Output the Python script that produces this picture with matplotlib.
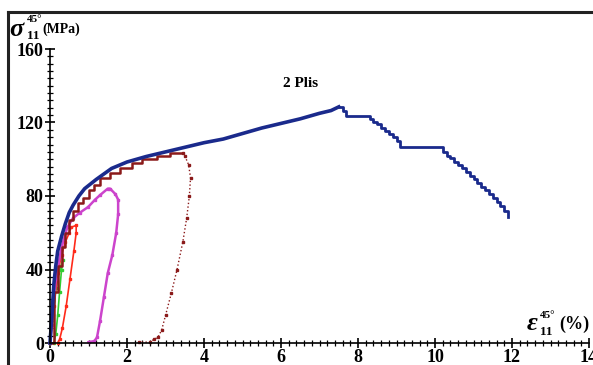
import matplotlib
matplotlib.use("Agg")
import matplotlib.pyplot as plt
from matplotlib.lines import Line2D

plt.rcParams['font.family'] = 'Liberation Serif'

# courbe enveloppe (bleu) : montée puis adoucissement
blue_load_x = [0, 0.05, 0.1, 0.15, 0.2, 0.3, 0.4, 0.5, 0.6, 0.75, 0.9, 1.2, 1.6, 2.0,
               2.5, 3.0, 3.5, 4.0, 4.5, 5.0, 5.5, 6.0, 6.5, 7.0, 7.3, 7.5]
blue_load_y = [0, 15, 32, 42, 50, 58, 65, 71, 75, 80, 84, 89, 95, 98.5,
               101.5, 104, 106.5, 109, 111, 114, 117, 119.5, 122, 125, 126.5, 128.5]
blue_fall_x = [7.5, 7.6, 7.7, 8.2, 8.3, 8.4, 8.5, 8.6, 8.7, 8.8, 8.9, 9.0, 9.1, 10.1, 10.2,
               10.3, 10.4, 10.5, 10.6, 10.7, 10.8, 10.9, 11.0, 11.1, 11.2, 11.3, 11.4, 11.5,
               11.6, 11.7, 11.8, 11.9]
blue_fall_y = [128.5, 126, 123.5, 123.5, 122, 120.5, 119, 117, 115.5, 114, 112, 110, 106.5, 106.5, 104,
               102, 100.5, 98.5, 97, 95, 93, 91, 89, 87, 85, 83, 81, 79,
               77, 74.5, 72, 68.5]

# cycle 4 (bordeaux)
dred_load_x = [0, 0.1, 0.2, 0.3, 0.4, 0.5, 0.6, 0.72, 0.85, 1.0, 1.15, 1.3, 1.56, 1.82,
               2.13, 2.39, 2.78, 3.12, 3.45]
dred_load_y = [0, 28, 42, 52, 60, 67, 72, 76, 79, 83, 86, 90, 92.5, 95,
               98, 100, 102, 103.5, 103.5]
dred_unload_x = [3.45, 3.5, 3.6, 3.65, 3.62, 3.55, 3.45, 3.3, 3.15, 3.0, 2.9, 2.8, 2.7, 2.6, 2.3]
dred_unload_y = [103.5, 102, 97, 90, 80, 68, 55, 40, 27, 15, 7, 3, 2, 0.5, 0.5]

# cycle 3 (magenta)
mag_x = [0, 0.05, 0.15, 0.3, 0.45, 0.6, 0.78, 0.99, 1.17, 1.3, 1.5, 1.56, 1.7, 1.77,
         1.77, 1.72, 1.62, 1.5, 1.4, 1.3, 1.22, 1.15, 1.0]
mag_y = [0, 10, 35, 52, 63, 68, 71, 74, 78, 80.5, 84, 84, 81, 78,
         70, 60, 48, 38, 25, 12, 3, 1, 0.5]

# cycle 2 (rouge)
red_x = [0, 0.1, 0.2, 0.3, 0.4, 0.5, 0.55, 0.68, 0.68, 0.62, 0.52, 0.42, 0.32, 0.25, 0.2]
red_y = [0, 20, 38, 48, 55, 60, 63, 64, 60, 50, 35, 20, 8, 2, 0]

# cycle 1 (vert)
green_x = [0, 0.08, 0.16, 0.25, 0.33, 0.3, 0.25, 0.2, 0.15, 0.1]
green_y = [0, 15, 30, 40, 45, 40, 28, 15, 5, 0]

fig = plt.figure(figsize=(5.93, 3.65), dpi=100)
ax = fig.add_axes([50 / 593, 22 / 365, 539 / 593, 294 / 365])

ax.plot(green_x, green_y, color='#33cc33', lw=1.2, marker='s', ms=2, clip_on=False)
ax.plot(red_x, red_y, color='#ff2a1a', lw=1.2, marker='s', ms=2, clip_on=False)
ax.plot(mag_x, mag_y, color='#cc44cc', lw=1.8, marker='s', ms=2, clip_on=False)
ax.plot(dred_load_x, dred_load_y, color='#8b1a1a', lw=1.8, drawstyle='steps-post', clip_on=False)
ax.plot(dred_unload_x, dred_unload_y, color='#8b1a1a', lw=1.0, marker='s', ms=2,
        ls=':', clip_on=False)
ax.plot(blue_load_x, blue_load_y, color='#1a2a8c', lw=2.6, clip_on=False)
ax.plot(blue_fall_x, blue_fall_y, color='#1a2a8c', lw=2.0, drawstyle='steps-post', clip_on=False)

ax.set_xlim(0, 14)
ax.set_ylim(0, 160)
ax.set_xticks([0, 2, 4, 6, 8, 10, 12, 14])
ax.set_yticks([0, 40, 80, 120, 160])
ax.set_xticks([i * 0.2 for i in range(71)], minor=True)
ax.set_yticks([i * 4 for i in range(41)], minor=True)
ax.tick_params(which='major', direction='inout', length=7, width=1.2, labelsize=13, pad=1)
ax.tick_params(which='minor', direction='inout', length=4, width=0.9)
for lab in ax.get_xticklabels() + ax.get_yticklabels():
    lab.set_fontweight('bold')
for s in ['top', 'right']:
    ax.spines[s].set_visible(False)
for s in ['left', 'bottom']:
    ax.spines[s].set_linewidth(1.2)

ax.text(6.5, 141, '2 Plis', fontsize=11, fontweight='bold', ha='center', va='center')


def px(x, y):
    return x / 593, 1 - y / 365


# étiquette axe vertical
fig.text(*px(9, 29), 'σ', fontsize=19, fontweight='bold', fontstyle='italic', ha='left', va='center')
fig.text(*px(27, 19), '45°', fontsize=8, fontweight='bold', ha='left', va='center')
fig.text(*px(27, 36), '11', fontsize=9.5, fontweight='bold', ha='left', va='center')
fig.text(*px(42, 29), '(MPa)', fontsize=10, fontweight='bold', ha='left', va='center')

# étiquette axe horizontal
fig.text(*px(527, 323), 'ε', fontsize=19, fontweight='bold', fontstyle='italic', ha='left', va='center')
fig.text(*px(540, 316), '45°', fontsize=8, fontweight='bold', ha='left', va='center')
fig.text(*px(540, 332), '11', fontsize=9.5, fontweight='bold', ha='left', va='center')
fig.text(*px(559, 324), '(%)', fontsize=13, fontweight='bold', ha='left', va='center')

fig.add_artist(Line2D([8 / 593, 1], [1 - 12 / 365, 1 - 12 / 365], color='#222222', lw=2.2))
fig.add_artist(Line2D([8 / 593, 8 / 593], [0, 1 - 12 / 365], color='#222222', lw=2.2))

fig.savefig('out.png', dpi=100)
